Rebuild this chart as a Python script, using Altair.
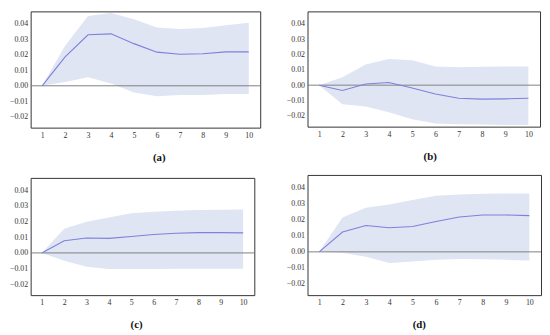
import altair as alt
import pandas as pd

steps = [1, 2, 3, 4, 5, 6, 7, 8, 9, 10]

a_mid = [0, 0.0187, 0.0329, 0.0335, 0.0272, 0.0217, 0.0203, 0.0207, 0.0219, 0.0219]
a_up = [0, 0.0258, 0.0450, 0.0470, 0.0430, 0.0376, 0.0367, 0.0372, 0.0390, 0.0406]
a_lo = [0, 0.0024, 0.0055, 0.0014, -0.0043, -0.0067, -0.0060, -0.0059, -0.0053, -0.0053]

b_mid = [0, -0.0035, 0.0008, 0.0017, -0.0019, -0.0058, -0.0085, -0.0091, -0.0089, -0.0085]
b_up = [0, 0.0052, 0.0135, 0.0170, 0.0162, 0.0122, 0.0116, 0.0120, 0.0122, 0.0122]
b_lo = [0, -0.0124, -0.0139, -0.0176, -0.0222, -0.0249, -0.0255, -0.0256, -0.0260, -0.0260]

c_mid = [0, 0.0078, 0.0095, 0.0093, 0.0105, 0.0118, 0.0126, 0.0130, 0.0130, 0.0128]
c_up = [0, 0.0154, 0.0200, 0.0227, 0.0253, 0.0263, 0.0270, 0.0274, 0.0276, 0.0278]
c_lo = [0, -0.0050, -0.0088, -0.0103, -0.0103, -0.0103, -0.0101, -0.0101, -0.0101, -0.0101]

d_mid = [0, 0.0124, 0.0164, 0.0150, 0.0158, 0.0190, 0.0218, 0.0230, 0.0230, 0.0226]
d_up = [0, 0.0214, 0.0276, 0.0296, 0.0324, 0.0350, 0.0358, 0.0362, 0.0364, 0.0364]
d_lo = [0, -0.0006, -0.0030, -0.0070, -0.0060, -0.0050, -0.0044, -0.0046, -0.0050, -0.0054]

y_ticks = [-0.02, -0.01, 0.0, 0.01, 0.02, 0.03, 0.04]

FONT = "Liberation Serif, DejaVu Serif, serif"
BAND = "#dfe5f3"
LINE = "#7f80db"


def panel(mid, up, lo, cap, w, h, tx):
    df = pd.DataFrame({"step": steps, "mid": mid, "up": up, "lo": lo})
    x = alt.X(
        "step:Q",
        scale=alt.Scale(domain=[0.5, 10.5], nice=False, zero=False),
        axis=alt.Axis(
            values=steps, format="d", title=cap, ticks=False, domain=False,
            grid=False, labelPadding=4, titlePadding=12, titleX=tx,
            titleFontWeight="bold", titleFontSize=11, titleFont=FONT,
            titleColor="#111", labelOverlap=False, labelFont=FONT,
            labelFontSize=8, labelColor="#333333",
        ),
    )
    yscale = alt.Scale(domain=[-0.027, 0.048], nice=False, zero=False)
    yaxis = alt.Axis(values=y_ticks, format=".2f", title=None, ticks=False,
                     domain=False, grid=False, labelPadding=3,
                     labelOverlap=False, labelFont=FONT, labelFontSize=8,
                     labelColor="#333333")
    band = alt.Chart(df).mark_area(color=BAND, opacity=1).encode(
        x=x, y=alt.Y("lo:Q", scale=yscale, axis=yaxis), y2="up:Q"
    )
    zero = alt.Chart(pd.DataFrame({"z": [0]})).mark_rule(
        color="#808080", strokeWidth=1
    ).encode(y=alt.Y("z:Q", scale=yscale, axis=yaxis))
    line = alt.Chart(df).mark_line(color=LINE, strokeWidth=1.1).encode(
        x=x, y=alt.Y("mid:Q", scale=yscale, axis=yaxis)
    )
    return alt.layer(band, zero, line).properties(width=w, height=h)


pa = panel(a_mid, a_up, a_lo, "(a)", 233, 118, 130)
pb = panel(b_mid, b_up, b_lo, "(b)", 236, 117, 124)
pc = panel(c_mid, c_up, c_lo, "(c)", 227, 119, 107)
pd_ = panel(d_mid, d_up, d_lo, "(d)", 237, 122, 113)

left = alt.vconcat(pa, pc, spacing=14)
right = alt.vconcat(pb, pd_, spacing=12)

chart = alt.hconcat(left, right, spacing=24).properties(
    padding=0, background="white"
).configure_view(stroke="#333333", strokeWidth=1)

chart.save("out.html", embed_options={"renderer": "svg", "actions": False})
